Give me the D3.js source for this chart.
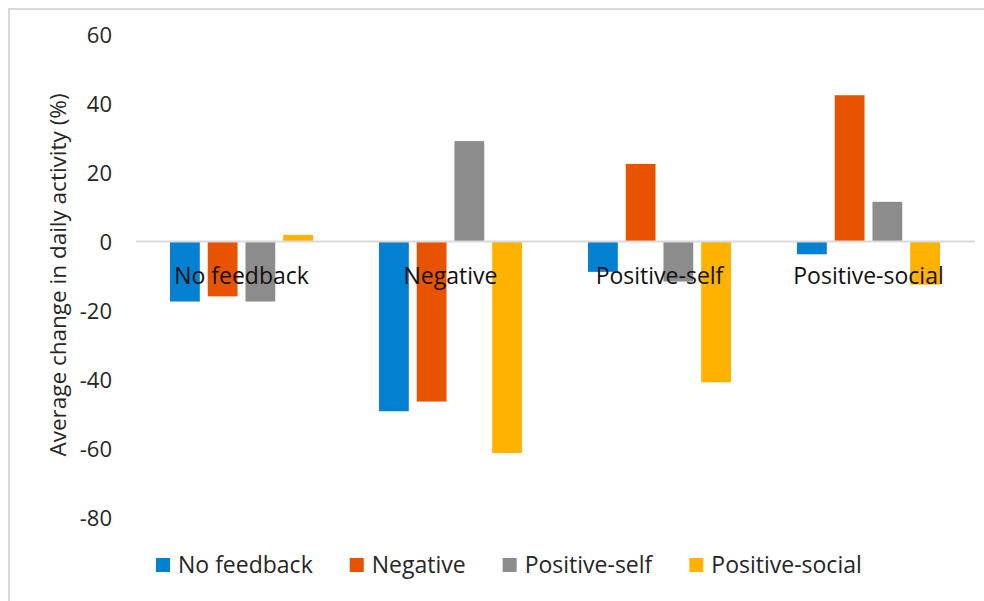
<!DOCTYPE html>
<html>
<head>
<meta charset="utf-8">
<script src="https://cdn.jsdelivr.net/npm/d3@7"></script>
<style>
  html, body { margin: 0; padding: 0; background: #fff; }
  svg { display: block; font-family: "Open Sans", "Noto Sans", sans-serif; }
</style>
</head>
<body>
<svg id="chart" width="984" height="601"></svg>
<script>
// Feedback conditions along the x axis
const categories = ["No feedback", "Negative", "Positive-self", "Positive-social"];
// Series (one bar per series in each condition)
const seriesNames = ["No feedback", "Negative", "Positive-self", "Positive-social"];
const seriesColors = ["#0480D0", "#E85300", "#8C8C8C", "#FFB300"];
// Average change in daily activity (%) per series, in category order
const noFeedbackValues = [-17.4, -49.2, -8.8, -3.7];
const negativeValues = [-15.9, -46.4, 22.5, 42.4];
const positiveSelfValues = [-17.4, 29.1, -11.6, 11.5];
const positiveSocialValues = [1.9, -61.3, -40.8, -12.5];
const yTicks = [-80, -60, -40, -20, 0, 20, 40, 60];

const seriesValues = [noFeedbackValues, negativeValues, positiveSelfValues, positiveSocialValues];

const svg = d3.select("#chart");

// Chart frame
svg.append("rect")
  .attr("x", 9).attr("y", 9)
  .attr("width", 1000).attr("height", 620)
  .attr("fill", "none")
  .attr("stroke", "#d9d9d9")
  .attr("stroke-width", 2);

const plot = { left: 137, right: 973, top: 34.5, bottom: 517.5 };

const y = d3.scaleLinear().domain([-80, 60]).range([plot.bottom, plot.top]);
const x0 = d3.scaleBand().domain(categories).range([plot.left, plot.right])
  .paddingInner(0.316).paddingOuter(0.158);
const x1 = d3.scaleBand().domain(seriesNames).range([0, x0.bandwidth()])
  .paddingInner(8 / 38).paddingOuter(0);

// Y axis tick labels (no axis line, no gridlines), plain hyphen for negatives
const yAxis = d3.axisLeft(y).tickValues(yTicks).tickSize(0).tickPadding(0)
  .tickFormat(d => String(d));
const yAxisG = svg.append("g")
  .attr("transform", `translate(112,0)`)
  .call(yAxis);
yAxisG.select(".domain").remove();
yAxisG.selectAll("text")
  .attr("font-family", "Open Sans, sans-serif")
  .attr("font-size", 22)
  .attr("fill", "#262626")
  .attr("dy", "0.36em");

// Y axis title
svg.append("text")
  .attr("transform", `translate(66,${(85 + 465) / 2}) rotate(-90)`)
  .attr("text-anchor", "middle")
  .attr("font-size", 22.5)
  .attr("fill", "#262626")
  .text("Average change in daily activity (%)");

// Bars
const groups = svg.append("g").selectAll("g")
  .data(categories)
  .join("g")
  .attr("transform", d => `translate(${x0(d)},0)`);

groups.selectAll("rect")
  .data((c, ci) => seriesNames.map((s, si) => ({ series: s, value: seriesValues[si][ci], color: seriesColors[si] })))
  .join("rect")
  .attr("x", d => x1(d.series))
  .attr("width", x1.bandwidth())
  .attr("y", d => y(Math.max(0, d.value)))
  .attr("height", d => Math.abs(y(d.value) - y(0)))
  .attr("fill", d => d.color);

// Zero baseline
svg.append("line")
  .attr("x1", plot.left - 1).attr("x2", plot.right + 2)
  .attr("y1", y(0)).attr("y2", y(0))
  .attr("stroke", "#d9d9d9")
  .attr("stroke-width", 2);

// Category labels sit just below the zero line, over the bars
const xAxis = d3.axisBottom(x0).tickSize(0).tickPadding(0);
const xAxisG = svg.append("g")
  .attr("transform", `translate(0,${y(0)})`)
  .call(xAxis);
xAxisG.select(".domain").remove();
xAxisG.selectAll("text")
  .attr("font-family", "Open Sans, sans-serif")
  .attr("font-size", 23)
  .attr("fill", "#111")
  .attr("dy", null)
  .attr("y", 42.5);

// Legend
const legend = svg.append("g");
let lx = 156;
seriesNames.forEach((name, i) => {
  const item = legend.append("g").attr("transform", `translate(${lx},0)`);
  item.append("rect")
    .attr("x", 0).attr("y", 558)
    .attr("width", 14).attr("height", 14)
    .attr("fill", seriesColors[i]);
  const t = item.append("text")
    .attr("x", 22).attr("y", 573)
    .attr("font-size", 23)
    .attr("fill", "#262626")
    .text(name);
  lx += 22 + t.node().getComputedTextLength() + 37;
});
</script>
</body>
</html>
